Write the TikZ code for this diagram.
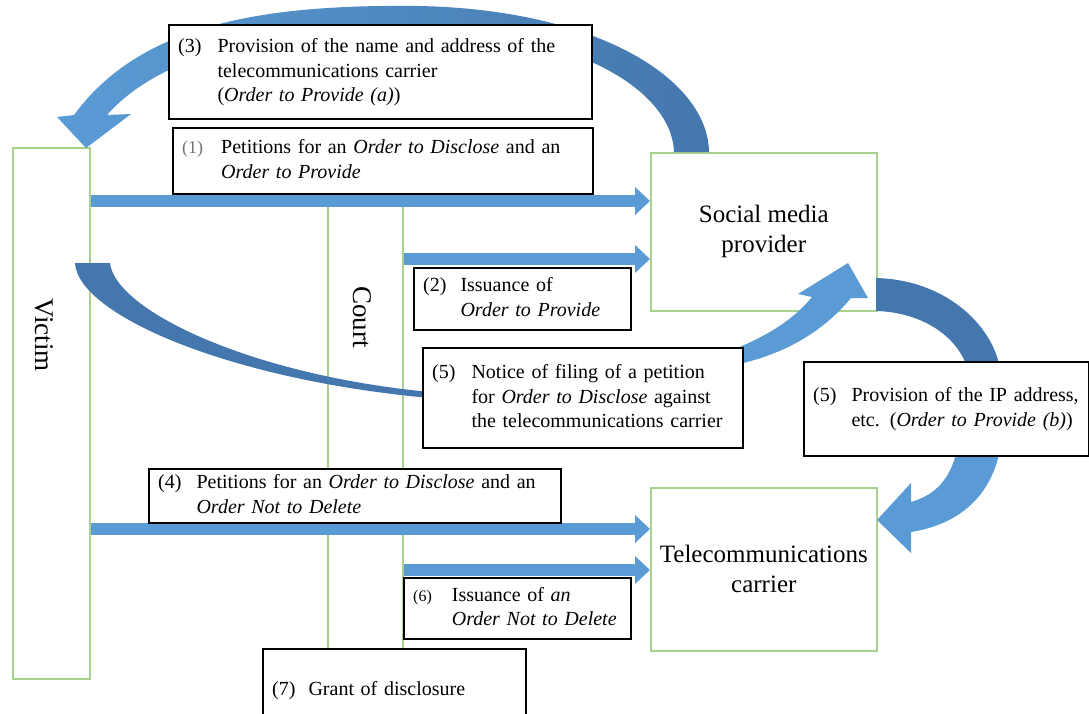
\documentclass[tikz,border=0pt]{standalone}
\usepackage{fontspec}
\setmainfont{Liberation Serif}
\usetikzlibrary{arrows.meta}
\definecolor{ablue}{RGB}{91,155,213}
\definecolor{dblue}{RGB}{68,119,173}
\definecolor{gbox}{RGB}{169,209,142}
\begin{document}
\begin{tikzpicture}[x=1pt,y=-1pt,
  greenbox/.style={draw=gbox, line width=1.6pt, fill=white, inner sep=0pt, anchor=north west},
  lbl/.style={draw=black, line width=2.4pt, fill=white, anchor=north west, inner xsep=9pt, inner ysep=0pt, align=left, font=\fontsize{20}{24.5}\selectfont},
  bigtext/.style={font=\fontsize{25}{30}\selectfont, align=center},
  sidetext/.style={font=\fontsize{27}{30}\selectfont, rotate=-90},
  flow/.style={draw=ablue, line width=11.5pt, -{Triangle[width=27pt,length=15pt]}},
]
\useasboundingbox (0,0) rectangle (1089,713);
\fill[white] (0,0) rectangle (1089,713);

% participants
\node[greenbox, minimum width=77pt, minimum height=531pt] (victim) at (12,147) {};
\node[greenbox, minimum width=75pt, minimum height=500pt] (court) at (327,200) {};
\node[greenbox, bigtext, minimum width=226pt, minimum height=158pt] (smp) at (650,152) {Social media\\provider};
\node[greenbox, bigtext, minimum width=226pt, minimum height=163pt] (tc) at (650,487) {Telecommunications\\carrier};
\node[sidetext] (victimtext) at (44,335) {Victim};
\node[sidetext] (courttext) at (362,317) {Court};

% curved arrow (3): social media provider -> victim
\shade[left color=ablue, right color=dblue]
  (709,152) .. controls (708,80) and (600,10) .. (420,6)
  .. controls (260,4) and (140,25) .. (74,115)
  -- (57,117) -- (86,148) -- (131,114) -- (107,115)
  .. controls (160,55) and (270,27) .. (420,29)
  .. controls (580,32) and (672,92) .. (674,152) -- cycle;

% curved arrow (5): victim -> social media provider (behind notice box)
\fill[dblue] (75,263) -- (110,263) .. controls (115,310) and (250,375) .. (430,392)
  -- (430,398) .. controls (230,380) and (78,315) .. (75,263) -- cycle;
\fill[ablue] (730,351) .. controls (770,335) and (795,318) .. (812,297)
  -- (798,294) -- (848,263) -- (868,298) -- (851,298)
  .. controls (820,335) and (780,356) .. (730,366) -- cycle;

% curved arrow (5): social media provider -> telecommunications carrier
\fill[dblue] (876,278) .. controls (950,280) and (995,330) .. (1000,370)
  -- (968,370) .. controls (958,335) and (920,312) .. (876,311) -- cycle;
\fill[ablue] (1000,450) .. controls (990,500) and (955,525) .. (911,532)
  -- (911,553) -- (877,520) -- (911,483) -- (911,502)
  .. controls (935,495) and (950,480) .. (957,450) -- cycle;

% straight arrows
\coordinate (y1) at (0,201);
\coordinate (y2) at (0,259);
\coordinate (y4) at (0,529);
\coordinate (y6) at (0,570);
\draw[flow] (victim.east |- y1) -- (smp.west |- y1);
\draw[flow] (court.east |- y2) -- (smp.west |- y2);
\draw[flow] (victim.east |- y4) -- (tc.west |- y4);
\draw[flow] (court.east |- y6) -- (tc.west |- y6);

% label boxes
\node[lbl, minimum width=423pt, minimum height=94pt, text width=405pt] (l3) at (168,24)
 {\begin{tabular}{@{}l@{\hspace{16pt}}l@{}}(3)&Provision of the name and address of the\\&telecommunications carrier\\&(\textit{Order to Provide (a)})\end{tabular}};
\node[lbl, minimum width=420pt, minimum height=66pt, text width=402pt] (l1) at (172,127)
 {\begin{tabular}{@{}l@{\hspace{18pt}}l@{}}{\color{black!55}\fontsize{18}{24.5}\selectfont(1)}&Petitions for an \textit{Order to Disclose} and an\\&\textit{Order to Provide}\end{tabular}};
\node[lbl, minimum width=217pt, minimum height=62pt, text width=199pt] (l2) at (413,267)
 {\begin{tabular}{@{}l@{\hspace{14pt}}l@{}}(2)&Issuance of\\&\textit{Order to Provide}\end{tabular}};
\node[lbl, minimum width=320pt, minimum height=100pt, text width=302pt] (l5a) at (422,347)
 {\begin{tabular}{@{}l@{\hspace{16pt}}l@{}}(5)&Notice of filing of a petition\\&for \textit{Order to Disclose} against\\&the telecommunications carrier\end{tabular}};
\node[lbl, minimum width=285pt, minimum height=94pt, text width=267pt] (l5b) at (803,361)
 {\begin{tabular}{@{}l@{\hspace{15pt}}l@{}}(5)&Provision of the IP address,\\&etc. (\textit{Order to Provide (b)})\end{tabular}};
\node[lbl, minimum width=412pt, minimum height=54pt, text width=394pt] (l4) at (148,468)
 {\begin{tabular}{@{}l@{\hspace{15pt}}l@{}}(4)&Petitions for an \textit{Order to Disclose} and an\\&\textit{Order Not to Delete}\end{tabular}};
\node[lbl, minimum width=227pt, minimum height=61pt, text width=209pt] (l6) at (403,577)
 {\begin{tabular}{@{}l@{\hspace{20pt}}l@{}}{\fontsize{16}{24.5}\selectfont(6)}&Issuance of \textit{an}\\&\textit{Order Not to Delete}\end{tabular}};
\node[lbl, minimum width=263pt, minimum height=82pt, text width=245pt] (l7) at (262,648)
 {\begin{tabular}{@{}l@{\hspace{13pt}}l@{}}(7)&Grant of disclosure\end{tabular}};
\end{tikzpicture}
\end{document}
